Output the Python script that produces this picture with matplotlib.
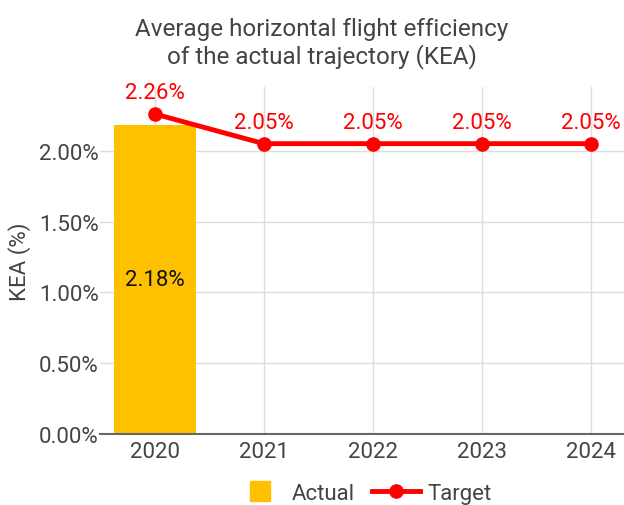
import matplotlib.pyplot as plt
from matplotlib.lines import Line2D

years = ["2020", "2021", "2022", "2023", "2024"]
actual = [2.18]
target = [2.26, 2.05, 2.05, 2.05, 2.05]

plt.rcParams['font.family'] = ['Roboto', 'DejaVu Sans']

fig = plt.figure(figsize=(6.24, 5.06), dpi=100)
ax = fig.add_axes([100 / 624, 71 / 506, 1 - 100 / 624, 347 / 506])

x = list(range(len(years)))

# bars for actual values
ax.bar(x[:len(actual)], actual, width=0.75, color="#FFC000", zorder=2)
for i, v in enumerate(actual):
    ax.text(i, v / 2, f"{v:.2f}%", ha="center", va="center", fontsize=16, color="#111111", zorder=4)

# target line
ax.plot(x, target, color="#FF0000", lw=3.5, marker="o", markersize=9.5, zorder=3)
for i, v in enumerate(target):
    ax.annotate(f"{v:.2f}%", (i, v), xytext=(0, 8), textcoords="offset points",
                ha="center", va="bottom", fontsize=16, color="#FF0000")

ax.set_xlim(-0.5, 4.3)
ax.set_ylim(0, 2.45)
ax.set_xticks(x)
ax.set_xticklabels(years)
ax.set_yticks([0, 0.5, 1.0, 1.5, 2.0])
ax.set_yticklabels(["0.00%", "0.50%", "1.00%", "1.50%", "2.00%"])
ax.tick_params(axis="both", length=0, labelsize=16, colors="#444444")
ax.tick_params(axis="x", pad=5)
ax.tick_params(axis="y", pad=1)

ax.grid(True, color="#DDDDDD", lw=1, zorder=0)
ax.set_axisbelow(True)
for s in ["top", "right", "left"]:
    ax.spines[s].set_visible(False)
ax.spines["bottom"].set_color("#666666")
ax.spines["bottom"].set_linewidth(1.5)

ax.set_ylabel("KEA (%)", fontsize=16, color="#444444", labelpad=6)
fig.text(0.516, 0.914, "Average horizontal flight efficiency\nof the actual trajectory (KEA)",
         ha="center", va="center", fontsize=17.5, color="#444444", linespacing=1.2)

handles = [Line2D([], [], color="#FFC000", lw=0, marker="s", markersize=14.5, label="Actual"),
           Line2D([], [], color="#FF0000", lw=3.5, marker="o", markersize=9.5, label="Target")]
fig.legend(handles=handles, loc="center", bbox_to_anchor=(0.583, 0.023), ncol=2,
           frameon=False, fontsize=16, handlelength=2.16, handletextpad=0.36,
           columnspacing=0.77, labelcolor="#444444", borderpad=0, borderaxespad=0)

fig.savefig("out.png", dpi=100)
